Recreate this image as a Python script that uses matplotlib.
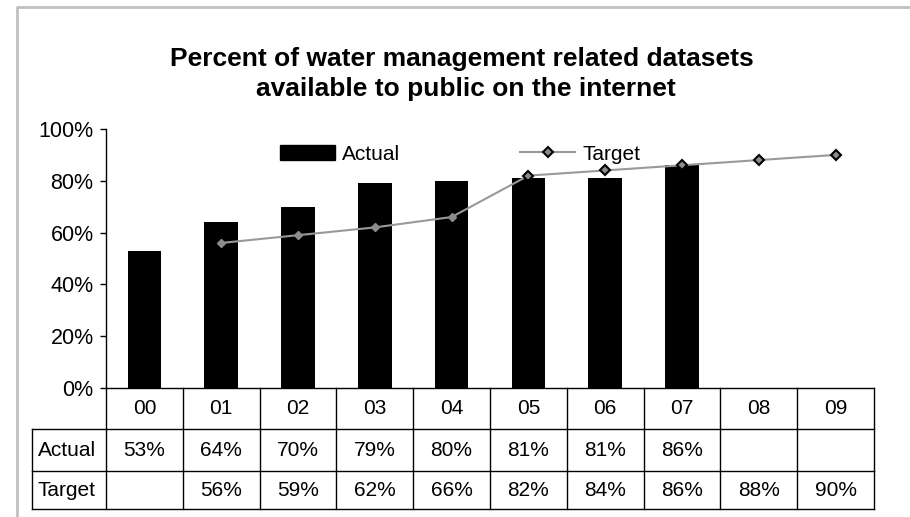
import numpy as np
import matplotlib
matplotlib.use("Agg")
import matplotlib.pyplot as plt
from matplotlib.lines import Line2D
import matplotlib.patches as mpatches

years = ["00", "01", "02", "03", "04", "05", "06", "07", "08", "09"]
actual = [0.53, 0.64, 0.70, 0.79, 0.80, 0.81, 0.81, 0.86, None, None]
target = [None, 0.56, 0.59, 0.62, 0.66, 0.82, 0.84, 0.86, 0.88, 0.90]
# points from 05 on are drawn with the bigger outlined marker
big_from = 5

plt.rcParams["font.family"] = ["Liberation Sans", "DejaVu Sans"]
W, H = 910, 517

fig = plt.figure(figsize=(W / 100, H / 100), dpi=100)
ax = fig.add_axes([106 / W, 1 - 388 / H, 768 / W, 259 / H])

x = np.arange(len(years))
ax.bar([i for i in x if actual[i] is not None],
       [v for v in actual if v is not None],
       width=0.44, color="black")

tx = [i for i in x if target[i] is not None]
ty = [v for v in target if v is not None]
line_col = "#999999"
mk_col = "#8c8c8c"
ax.plot(tx, ty, color=line_col, lw=1.5, zorder=3)
small = [i for i in tx if i < big_from]
big = [i for i in tx if i >= big_from]
ax.plot(small, [target[i] for i in small], ls="none", marker="D", ms=4,
        mfc=mk_col, mec=mk_col, zorder=4)
ax.plot(big, [target[i] for i in big], ls="none", marker="D", ms=5.5,
        mfc=mk_col, mec="black", mew=1.5, zorder=4)

ax.set_xlim(-0.5, len(years) - 0.5)
ax.set_ylim(0, 1)
ax.set_yticks(np.arange(0, 1.01, 0.2))
ax.set_yticklabels([f"{int(round(t * 100))}%" for t in np.arange(0, 1.01, 0.2)])
ax.tick_params(axis="y", direction="out", length=4.5, pad=4.5, labelsize=15.5,
               width=1)
ax.set_xticks([])
for s in ["top", "right"]:
    ax.spines[s].set_visible(False)
ax.spines["left"].set_linewidth(1)
ax.spines["bottom"].set_linewidth(1)

# data table under the plot
tr = ax.get_xaxis_transform()
row_edges = [0, -41 / 259, -83 / 259, -121 / 259]
left_x = -0.5 - 74 / 76.8
for i in range(len(years) + 1):
    ax.plot([i - 0.5, i - 0.5], [0, row_edges[-1]], color="black", lw=1,
            transform=tr, clip_on=False)
for yy in row_edges[1:]:
    ax.plot([left_x, len(years) - 0.5], [yy, yy], color="black", lw=1,
            transform=tr, clip_on=False)
ax.plot([left_x, left_x], [row_edges[1], row_edges[-1]], color="black", lw=1,
        transform=tr, clip_on=False)

mid = [(row_edges[k] + row_edges[k + 1]) / 2 for k in range(3)]
for i, yr in enumerate(years):
    ax.text(i, mid[0], yr, ha="center", va="center", fontsize=15,
            transform=tr)
    if actual[i] is not None:
        ax.text(i, mid[1], f"{int(round(actual[i] * 100))}%", ha="center",
                va="center", fontsize=15, transform=tr)
    if target[i] is not None:
        ax.text(i, mid[2], f"{int(round(target[i] * 100))}%", ha="center",
                va="center", fontsize=15, transform=tr)
ax.text(left_x + 6 / 76.8, mid[1], "Actual", ha="left", va="center",
        fontsize=15, transform=tr)
ax.text(left_x + 6 / 76.8, mid[2], "Target", ha="left", va="center",
        fontsize=15, transform=tr)

# legend
handles = [
    mpatches.Patch(color="black", label="Actual"),
    Line2D([], [], color=line_col, lw=1.5, marker="D", ms=5.5, mfc=mk_col,
           mec="black", mew=1.5, label="Target"),
]
leg = fig.legend(handles=handles, loc="center left",
                 bbox_to_anchor=(280 / W, 1 - 154 / H), ncol=2, frameon=False,
                 fontsize=15, handlelength=2.64, handleheight=0.72,
                 handletextpad=0.34, columnspacing=5.75, borderpad=0,
                 borderaxespad=0, numpoints=1)

# title
fig.text(462 / W, 1 - 66 / H, "Percent of water management related datasets",
         ha="center", va="baseline", fontsize=19, fontweight="bold")
fig.text(466 / W, 1 - 96 / H, "available to public on the internet",
         ha="center", va="baseline", fontsize=19, fontweight="bold")

# chart area border
fig.add_artist(Line2D([17 / W, 17 / W, 1.0], [0.0, 1 - 7 / H, 1 - 7 / H],
                      color="#c0c0c0", lw=2, transform=fig.transFigure))

fig.savefig("out.png", dpi=100)
